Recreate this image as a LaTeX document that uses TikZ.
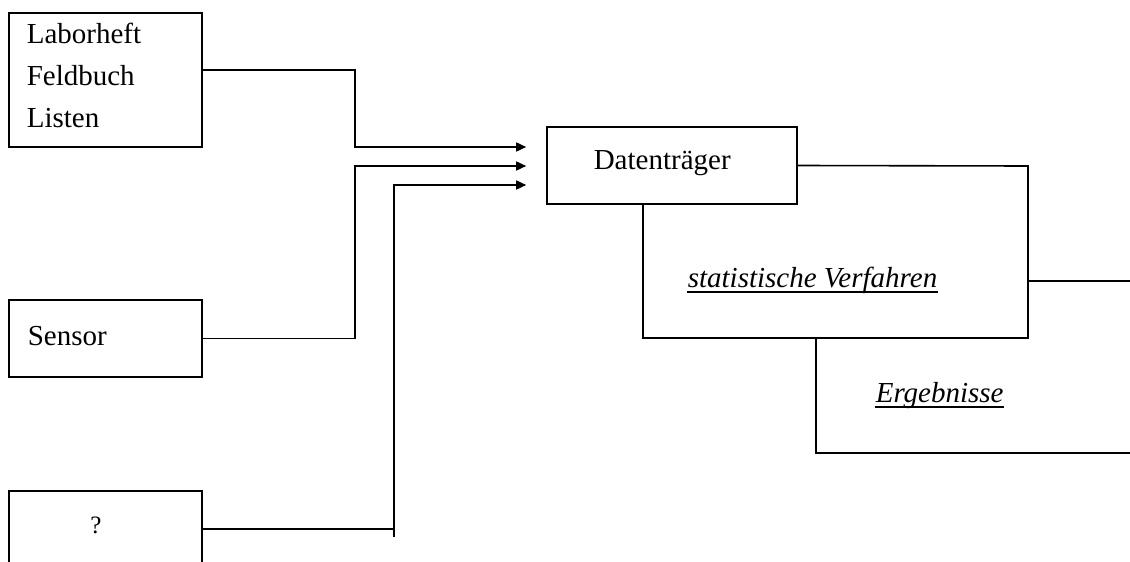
\documentclass[tikz,border=0pt]{standalone}
\usepackage{fontspec}
\setmainfont{Liberation Serif}
\usetikzlibrary{arrows.meta}
\begin{document}
\begin{tikzpicture}[x=0.5pt,y=-0.5pt, line width=0.8pt,
  box/.style={draw, rectangle, inner sep=0pt},
  lbl/.style={inner sep=0pt, anchor=base west, font=\fontsize{14.5}{17}\selectfont},
  arr/.style={-{Triangle[length=5pt,width=4.5pt]}},
  uline/.style={line width=0.6pt}]
\useasboundingbox (0,0) rectangle (1130,562);
\clip (0,0) rectangle (1130,562);
% boxes
\node[box, minimum width=96.5pt, minimum height=67pt] (lab) at (105.5,80) {};
\node[box, minimum width=96.5pt, minimum height=38.5pt] (sen) at (105.5,338.5) {};
\node[box, minimum width=96.5pt, minimum height=60pt] (q) at (105.5,551) {};
\node[box, minimum width=125pt, minimum height=38.5pt] (dt) at (672,165.5) {};
% texts
\node[lbl] (t1) at (26,43) {Laborheft};
\node[lbl] (t2) at (26,85) {Feldbuch};
\node[lbl] (t3) at (26,127) {Listen};
\node[lbl] (ts) at (27,345) {Sensor};
\node[inner sep=0pt, anchor=base, font=\fontsize{12.5}{15}\selectfont] (qm) at (96,533) {?};
\node[lbl] (tdt) at (593,169) {Datenträger};
\node[lbl, font=\fontsize{14.5}{17}\selectfont\itshape] (sv) at (687,287) {statistische Verfahren};
\node[lbl, font=\fontsize{14.5}{17}\selectfont\itshape] (erg) at (875,402) {Ergebnisse};
\draw[uline] ([yshift=-2.5pt]sv.base west) -- ([yshift=-2.5pt]sv.base east);
\draw[uline] ([yshift=-2.5pt]erg.base west) -- ([yshift=-2.5pt]erg.base east);
% connectors
\draw[arr] (lab.east |- 0,70) -- (355,70) -- (355,147) -- ([xshift=-10pt]dt.west |- 0,147);
\draw[arr] (sen.east) -- (355,338.5) -- (355,166) -- ([xshift=-10pt]dt.west |- 0,166);
\draw (q.east |- 0,529) -- (394,529);
\draw[arr] (394,537) -- (394,185) -- ([xshift=-10pt]dt.west |- 0,185);
\draw (dt.east) -- (1028,166) -- (1028,338) -- (643,338) -- (dt.south -| 643,0);
\draw (1028,281) -- (1130,281);
\draw (816,338) -- (816,453) -- (1130,453);
\end{tikzpicture}
\end{document}
